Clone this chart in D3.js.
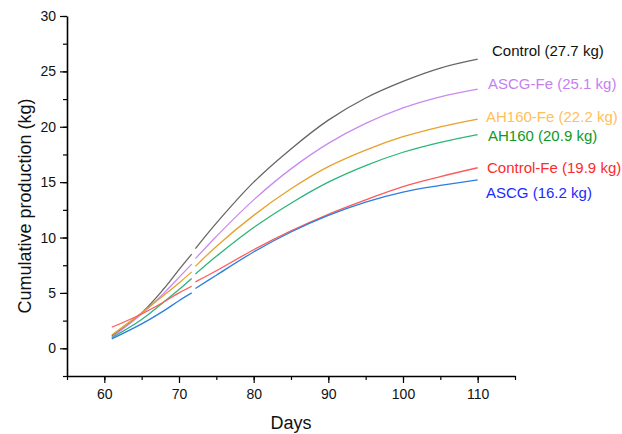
<!DOCTYPE html>
<html>
<head>
<meta charset="utf-8">
<script src="https://cdn.jsdelivr.net/npm/d3@7"></script>
<style>
  body { margin: 0; background: #fff; }
  svg { display: block; font-family: "Liberation Sans", Arial, sans-serif; }
</style>
</head>
<body>
<div id="chart"></div>
<script>
const width = 622;
const height = 434;

// days; null marks the small break in the curves near day 72
const days = [61, 65, 68, 70, 71.7, null, 72.2, 75, 80, 85, 90, 95, 100, 105, 110];

const control   = [1.1, 3.2, 5.4, 7.1, 8.5, null, 9.0, 11.3, 15.0, 18.0, 20.6, 22.6, 24.1, 25.3, 26.1];
const ascgFe    = [1.0, 3.1, 5.0, 6.4, 7.6, null, 8.1, 10.1, 13.4, 16.2, 18.5, 20.3, 21.7, 22.7, 23.4];
const ah160Fe   = [1.2, 3.2, 4.8, 5.9, 6.9, null, 7.4, 9.2, 12.0, 14.4, 16.4, 17.9, 19.1, 20.0, 20.7];
const ah160     = [0.95, 2.6, 4.2, 5.3, 6.3, null, 6.7, 8.3, 10.9, 13.1, 15.0, 16.5, 17.7, 18.6, 19.3];
const controlFe = [1.9, 3.1, 4.2, 5.0, 5.6, null, 6.0, 7.0, 8.9, 10.6, 12.1, 13.4, 14.6, 15.5, 16.3];
const ascg      = [0.85, 2.2, 3.4, 4.3, 5.0, null, 5.4, 6.6, 8.7, 10.5, 12.0, 13.2, 14.1, 14.7, 15.2];

const seriesNames = ['Control', 'ASCG-Fe', 'AH160-Fe', 'AH160', 'Control-Fe', 'ASCG'];
const seriesLabels = ['Control (27.7 kg)', 'ASCG-Fe (25.1 kg)', 'AH160-Fe (22.2 kg)',
                      'AH160 (20.9 kg)', 'Control-Fe (19.9 kg)', 'ASCG (16.2 kg)'];
const seriesValues = [control, ascgFe, ah160Fe, ah160, controlFe, ascg];

const xTicks = [60, 70, 80, 90, 100, 110];
const yTicks = [0, 5, 10, 15, 20, 25, 30];

// look
const lineColors  = ['#666666', '#c98bf0', '#e6a22a', '#2bb57a', '#ff5a5a', '#2b7fe0'];
const labelColors = ['#111111', '#c77ff0', '#ffc05a', '#119922', '#ff2a2a', '#1a2aff'];
const labelX = [492, 488, 486, 488, 487, 486];
const labelY = [56, 89, 122, 141, 173, 198];

const margin = { left: 67, right: 107, top: 16, bottom: 58 };

const xScale = d3.scaleLinear().domain([55, 115]).range([margin.left, width - margin.right]);
const yScale = d3.scaleLinear().domain([-2.5, 30]).range([height - margin.bottom, margin.top]);

const svg = d3.select('#chart')
  .append('svg')
  .attr('width', width)
  .attr('height', height);

// minor ticks
svg.append('g')
  .attr('transform', `translate(0, ${yScale.range()[0]})`)
  .call(d3.axisBottom(xScale).tickValues(d3.range(55, 115.1, 5)).tickSize(4).tickFormat(''))
  .call(g => g.select('.domain').remove());

svg.append('g')
  .attr('transform', `translate(${margin.left}, 0)`)
  .call(d3.axisLeft(yScale).tickValues(d3.range(-2.5, 30.1, 2.5)).tickSize(4).tickFormat(''))
  .call(g => g.select('.domain').remove());

// major axes
const xAxis = svg.append('g')
  .attr('transform', `translate(0, ${yScale.range()[0]})`)
  .call(d3.axisBottom(xScale).tickValues(xTicks).tickSize(7).tickSizeOuter(0).tickPadding(6));

const yAxis = svg.append('g')
  .attr('transform', `translate(${margin.left}, 0)`)
  .call(d3.axisLeft(yScale).tickValues(yTicks).tickSize(7).tickSizeOuter(0).tickPadding(4));

[xAxis, yAxis].forEach(g => {
  g.selectAll('.domain').attr('stroke', '#000').attr('stroke-width', 1.6);
  g.selectAll('.tick text').style('font-size', '14px').attr('fill', '#111');
});
svg.selectAll('g line').attr('stroke', '#000').attr('stroke-width', 1.2);

// curves
const line = d3.line()
  .defined(d => d[0] != null && d[1] != null)
  .x(d => xScale(d[0]))
  .y(d => yScale(d[1]))
  .curve(d3.curveCatmullRom.alpha(0.5));

seriesValues.forEach((vals, i) => {
  svg.append('path')
    .datum(days.map((d, j) => [d, vals[j]]))
    .attr('class', 'series ' + seriesNames[i])
    .attr('fill', 'none')
    .attr('stroke', lineColors[i])
    .attr('stroke-width', 1.3)
    .attr('d', line);
});

// labels at the curve ends
seriesLabels.forEach((t, i) => {
  svg.append('text')
    .attr('x', labelX[i])
    .attr('y', labelY[i])
    .attr('fill', labelColors[i])
    .style('font-size', '15px')
    .text(t);
});

// axis titles
svg.append('text')
  .attr('x', (xScale.range()[0] + xScale.range()[1]) / 2)
  .attr('y', 429)
  .attr('text-anchor', 'middle')
  .style('font-size', '18px')
  .attr('fill', '#111')
  .text('Days');

svg.append('text')
  .attr('transform', `translate(31, ${(yScale.range()[0] + yScale.range()[1]) / 2 + 10}) rotate(-90)`)
  .attr('text-anchor', 'middle')
  .style('font-size', '18px')
  .attr('fill', '#111')
  .text('Cumulative production (kg)');
</script>
</body>
</html>
